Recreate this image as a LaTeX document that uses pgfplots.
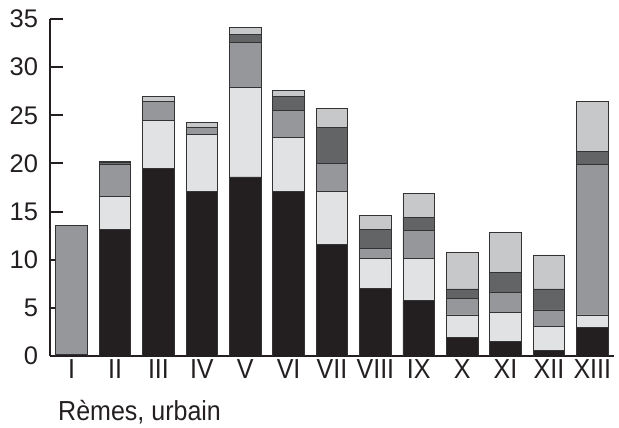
\documentclass[border=0pt]{standalone}
\usepackage{pgfplots}
\usepackage{pgfplotstable}
\pgfplotsset{compat=1.18}
\usepackage{fontspec}
\setmainfont{Liberation Sans}
\newfontfamily\narrowfont[FakeStretch=0.91]{Liberation Sans}
\definecolor{cblack}{HTML}{231F20}
\definecolor{clight}{HTML}{E1E2E4}
\definecolor{cmed}{HTML}{96979A}
\definecolor{cdark}{HTML}{636466}
\definecolor{ctop}{HTML}{C7C8CA}
\pgfplotstableread{
x black light med dark top
1 0.15 0 13.45 0 0
2 13.1 3.45 3.4 0.16 0.1
3 19.49 4.95 1.97 0 0.52
4 17.13 5.89 0.72 0 0.52
5 18.6 9.27 4.71 0.83 0.73
6 17.13 5.57 2.81 1.42 0.62
7 11.63 5.5 2.87 3.74 1.98
8 6.99 3.11 1.08 1.94 1.52
9 5.76 4.38 2.93 1.3 2.55
10 1.97 2.29 1.69 1.01 3.84
11 1.49 3.01 2.08 2.07 4.19
12 0.55 2.49 1.74 2.18 3.53
13 2.94 1.32 15.68 1.35 5.19
}\datatable
\begin{document}
\begin{tikzpicture}
\useasboundingbox (0,0) rectangle (619pt,428pt);
\begin{axis}[
  at={(50pt,72pt)}, anchor=south west,
  scale only axis, width=564pt, height=337pt,
  xmin=0.5, xmax=13.5, ymin=0, ymax=35,
  ybar stacked, bar width=31.6pt,
  axis x line*=bottom, axis y line*=left,
  axis line style={-, line width=2.5pt, color=cblack},
  xtick={1,...,13},
  xticklabels={I,II,III,IV,V,VI,VII,VIII,IX,X,XI,XII,XIII},
  minor xtick={1.5,2.5,...,12.5},
  ytick={0,5,...,35},
  tick align=inside,
  major tick length=13pt, minor tick length=7pt,
  xtick style={draw=none},
  minor x tick style={line width=2pt, color=cblack},
  ytick style={line width=2pt, color=cblack},
  yticklabel style={font=\fontsize{25.5}{30}\selectfont, text=cblack, xshift=-8.5pt},
  xticklabel style={font=\narrowfont\fontsize{27.5}{30}\selectfont, text=cblack, yshift=0pt},
  /pgf/number format/assume math mode=true,
  every axis plot/.append style={draw=black!80, line width=0.8pt},
]
\addplot[fill=cblack] table[x=x, y=black] {\datatable};
\addplot[fill=clight] table[x=x, y=light] {\datatable};
\addplot[fill=cmed] table[x=x, y=med] {\datatable};
\addplot[fill=cdark] table[x=x, y=dark] {\datatable};
\addplot[fill=ctop] table[x=x, y=top] {\datatable};
\end{axis}
\node[anchor=base west, inner sep=0pt, text=cblack, font=\narrowfont\fontsize{27.5}{30}\selectfont] at (58pt,7pt) {Rèmes, urbain};
\end{tikzpicture}
\end{document}
